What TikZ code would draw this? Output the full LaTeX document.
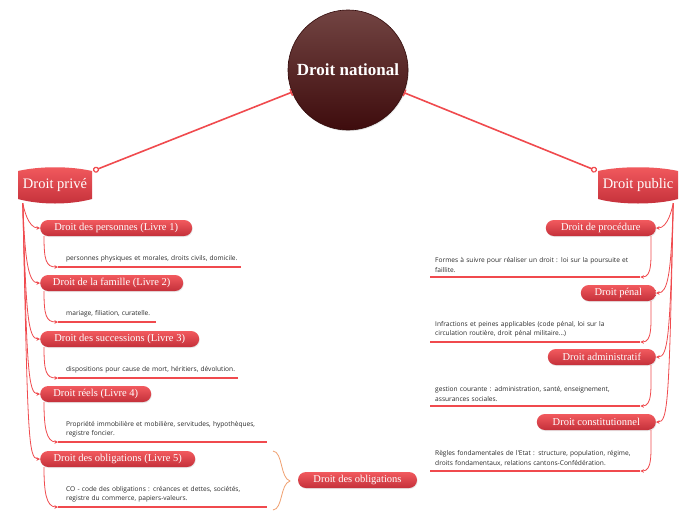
\documentclass[tikz,border=0pt]{standalone}
\usepackage{fontspec}
\setmainfont{Liberation Serif}
\newfontfamily\notefont{Open Sans}
\usetikzlibrary{arrows.meta,shadows}
\definecolor{linkred}{HTML}{F04A4E}
\definecolor{pilltop}{HTML}{F25A5E}
\definecolor{pillbot}{HTML}{C4303A}
\definecolor{nattop}{HTML}{724442}
\definecolor{natbot}{HTML}{3E0C0D}
\definecolor{bracecol}{HTML}{F0A070}
\definecolor{notetext}{HTML}{2A2A2A}
\tikzset{
  pill/.style={rounded corners=8pt, top color=pilltop, bottom color=pillbot, text=white,
    font=\fontsize{10.5}{11}\selectfont, minimum height=16pt, inner xsep=3pt, inner ysep=0pt,
    drop shadow={opacity=0.18, shadow xshift=0.6pt, shadow yshift=-1pt}},
  note/.style={anchor=south west, font=\notefont\fontsize{6.6}{9.7}\selectfont, text=notetext,
    inner ysep=4.3pt, align=left},
  lnote/.style={note, inner xsep=8pt},
  rnote/.style={note, inner xsep=5pt, text width=200pt},
  sub/.style={draw=linkred, line width=0.8pt, -{Stealth[length=3.5pt,width=3.5pt]}},
  uline/.style={draw=linkred, line width=1.2pt},
  mainlink/.style={draw=linkred, line width=1.6pt,
    {Circle[open,length=6pt,width=6pt,line width=1.2pt,fill=white]}-{Bar[width=7pt,line width=1.4pt]}},
  titleshade/.style={top color=pilltop, bottom color=pillbot},
  title/.style={text=white, font=\fontsize{14.5}{15}\selectfont, minimum width=74pt, minimum height=36pt, inner sep=0pt},
}
\begin{document}
\begin{tikzpicture}[x=1pt,y=-1pt]
\useasboundingbox (0,0) rectangle (696,520);
\fill[white] (0,0) rectangle (696,520);

% central node
\node[circle, minimum size=120pt, inner sep=0pt, top color=nattop, bottom color=natbot, draw=natbot!80!black, line width=0.6pt,
  text=white, font=\bfseries\fontsize{17}{18}\selectfont,
  drop shadow={opacity=0.2, shadow xshift=0.8pt, shadow yshift=-1.2pt}] (nat) at (348,70) {Droit national};

% Droit prive
\shade[titleshade] (18,171) .. controls (40,166) and (70,166) .. (92,171) -- (92,199) .. controls (70,205) and (40,205) .. (18,199) -- cycle;
\node[title] (prive) at (55,185) {Droit privé};
% Droit public
\shade[titleshade] (598,171) .. controls (620,166) and (656,166) .. (678,171) -- (678,199) .. controls (656,205) and (620,205) .. (598,199) -- cycle;
\node[title, minimum width=80pt] (pub) at (638,185) {Droit public};

\draw[mainlink] ([shift={(1pt,-4pt)}]prive.north east) -- (nat);
\draw[mainlink] ([shift={(-1pt,-4pt)}]pub.north west) -- (nat);

\coordinate (ls) at ([xshift=5pt]prive.south west);
\coordinate (rs) at ([xshift=-5pt]pub.south east);

% left pills
\node[pill, anchor=west, minimum width=152pt] (p1) at (40,228) {Droit des personnes (Livre 1)};
\node[pill, anchor=west, minimum width=143pt] (p2) at (40,283) {Droit de la famille (Livre 2)};
\node[pill, anchor=west, minimum width=159pt] (p3) at (40,339) {Droit des successions (Livre 3)};
\node[pill, anchor=west, minimum width=111pt] (p4) at (40,394) {Droit réels (Livre 4)};
\node[pill, anchor=west, minimum width=155pt] (p5) at (40,459) {Droit des obligations (Livre 5)};

% left notes
\node[lnote, text width=167pt] (n1) at (58,267) {\mbox{personnes physiques et morales, droits civils, domicile.}};
\node[lnote, text width=82pt] (n2) at (58,322) {\mbox{mariage, filiation, curatelle.}};
\node[lnote, text width=164pt] (n3) at (58,378) {\mbox{dispositions pour cause de mort, héritiers, dévolution.}};
\node[lnote, text width=193pt] (n4) at (58,442) {\mbox{Propriété immobilière et mobilière, servitudes, hypothèques,}\\\mbox{registre foncier.}};
\node[lnote, text width=193pt] (n5) at (58,507) {\mbox{CO - code des obligations : créances et dettes, sociétés,}\\\mbox{registre du commerce, papiers-valeurs.}};

\foreach \n in {n1,n2,n3,n4,n5} \draw[uline] (\n.south west) -- (\n.south east);

% spine left
\draw[sub] (ls) .. controls +(1,5) and +(-12,0) .. (p1.west);
\draw[sub] (ls) .. controls +(2,55) and +(-12,0) .. (p2.west);
\draw[sub] (ls) .. controls +(3,110) and +(-12,0) .. (p3.west);
\draw[sub] (ls) .. controls +(4,165) and +(-12,0) .. (p4.west);
\draw[sub] (ls) .. controls +(5,230) and +(-12,0) .. (p5.west);

% left pill to note
\foreach \p/\n in {p1/n1,p2/n2,p3/n3,p4/n4,p5/n5}
  \draw[sub] ([xshift=4pt]\p.south west) .. controls +(0,24) and +(-12,0) .. (\n.south west);

% brace and obligations
\draw[bracecol, line width=0.8pt] (273,451) .. controls (283,452) and (280,478) .. (290,481) .. controls (280,484) and (283,509) .. (273,510);
\node[pill, minimum width=119pt] (ob) at (357.5,480) {Droit des obligations};

% right pills
\node[pill, anchor=east, minimum width=110pt] (q1) at (656,228) {Droit de procédure};
\node[pill, anchor=east, minimum width=75pt] (q2) at (656,293) {Droit pénal};
\node[pill, anchor=east, minimum width=108pt] (q3) at (656,357) {Droit administratif};
\node[pill, anchor=east, minimum width=119pt] (q4) at (656,422) {Droit constitutionnel};

% right notes
\node[rnote] (m1) at (430,277) {\mbox{Formes à suivre pour réaliser un droit : loi sur la poursuite et}\\\mbox{faillite.}};
\node[rnote] (m2) at (430,342) {\mbox{Infractions et peines applicables (code pénal, loi sur la}\\\mbox{circulation routière, droit pénal militaire...)}};
\node[rnote] (m3) at (430,406) {\mbox{gestion courante : administration, santé, enseignement,}\\\mbox{assurances sociales.}};
\node[rnote] (m4) at (430,471) {\mbox{Règles fondamentales de l'Etat : structure, population, régime,}\\\mbox{droits fondamentaux, relations cantons-Confédération.}};

\foreach \n in {m1,m2,m3,m4} \draw[uline] (\n.south west) -- (\n.south east);

% spine right
\draw[sub] (rs) .. controls +(-1,5) and +(12,0) .. (q1.east);
\draw[sub] (rs) .. controls +(-2,70) and +(12,0) .. (q2.east);
\draw[sub] (rs) .. controls +(-3,134) and +(12,0) .. (q3.east);
\draw[sub] (rs) .. controls +(-4,199) and +(12,0) .. (q4.east);

\foreach \p/\n in {q1/m1,q2/m2,q3/m3,q4/m4}
  \draw[sub] ([xshift=-5pt]\p.south east) .. controls +(0,24) and +(12,0) .. (\n.south east);
\end{tikzpicture}
\end{document}
